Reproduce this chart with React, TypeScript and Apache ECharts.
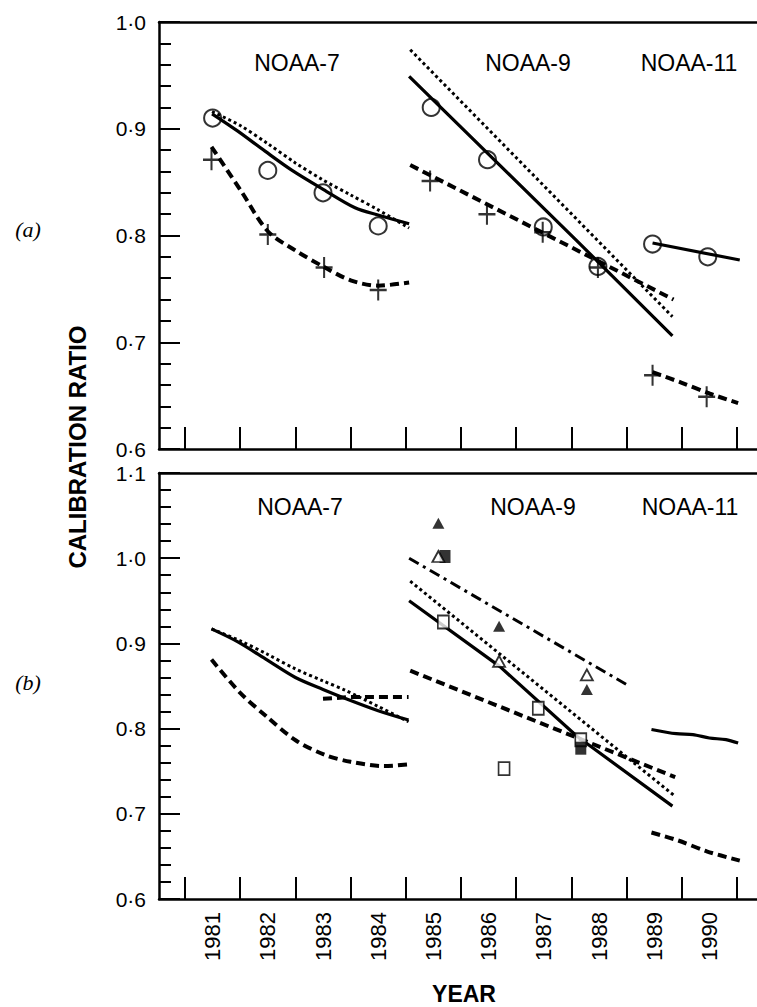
import React, { useEffect, useRef } from "react";
import * as echarts from "echarts";

// ---------- axis data ----------
const tickYears = [1981, 1982, 1983, 1984, 1985, 1986, 1987, 1988, 1989, 1990, 1991];
const labelYears = [1981.5, 1982.5, 1983.5, 1984.5, 1985.5, 1986.5, 1987.5, 1988.5, 1989.5, 1990.5];
const satLabels = ["NOAA-7", "NOAA-9", "NOAA-11"];

// ---------- panel (a) ----------
const a7Circles = [[1981.5, 0.910], [1982.5, 0.861], [1983.5, 0.840], [1984.5, 0.809]];
const a7Plus = [[1981.48, 0.871], [1982.5, 0.801], [1983.52, 0.770], [1984.5, 0.749]];
const a7Solid = [[1981.49, 0.914], [1981.95, 0.898], [1982.45, 0.879], [1982.94, 0.861], [1983.51, 0.843], [1984.08, 0.826], [1984.51, 0.819], [1985.06, 0.811]];
const a7Dotted = [[1981.49, 0.916], [1982.0, 0.903], [1982.5, 0.886], [1983.0, 0.868], [1983.5, 0.852], [1984.0, 0.838], [1984.5, 0.824], [1985.06, 0.807]];
const a7Dashed = [[1981.48, 0.883], [1982.0, 0.843], [1982.5, 0.804], [1983.0, 0.786], [1983.5, 0.771], [1984.0, 0.758], [1984.5, 0.753], [1985.06, 0.756]];

const a9Circles = [[1985.46, 0.920], [1986.48, 0.871], [1987.49, 0.808], [1988.48, 0.771]];
const a9Plus = [[1985.44, 0.851], [1986.47, 0.820], [1987.48, 0.803], [1988.48, 0.770]];
const a9Solid = [[1985.06, 0.949], [1988.1, 0.795], [1989.83, 0.706]];
const a9Dotted = [[1985.08, 0.974], [1989.83, 0.724]];
const a9Dashed = [[1985.08, 0.866], [1989.85, 0.740]];

const a11Circles = [[1989.47, 0.792], [1990.47, 0.780]];
const a11Plus = [[1989.47, 0.669], [1990.45, 0.649]];
const a11Solid = [[1989.47, 0.793], [1991.05, 0.777]];
const a11Dashed = [[1989.47, 0.672], [1990.0, 0.662], [1990.5, 0.652], [1991.02, 0.643]];

// ---------- panel (b) ----------
const b7Solid = [[1981.48, 0.917], [1981.95, 0.902], [1982.5, 0.880], [1983.0, 0.860], [1983.5, 0.846], [1984.0, 0.833], [1984.5, 0.821], [1985.05, 0.810]];
const b7Dotted = [[1981.48, 0.917], [1982.0, 0.903], [1982.5, 0.887], [1983.0, 0.870], [1983.5, 0.856], [1983.9, 0.845], [1984.5, 0.826], [1985.05, 0.808]];
const b7DashedFlat = [[1983.5, 0.835], [1984.0, 0.837], [1985.05, 0.837]];
const b7Dashed = [[1981.48, 0.881], [1982.0, 0.842], [1982.48, 0.814], [1983.01, 0.786], [1983.54, 0.769], [1984.0, 0.761], [1984.61, 0.756], [1985.06, 0.758]];

const b9Solid = [[1985.06, 0.950], [1986.7, 0.873], [1988.1, 0.791], [1989.83, 0.709]];
const b9Dotted = [[1985.08, 0.973], [1989.85, 0.722]];
const b9Dashed = [[1985.08, 0.868], [1989.88, 0.743]];
const b9DashDot = [[1985.06, 1.000], [1988.99, 0.852]];
const b9OpenTri = [[1985.59, 1.002], [1986.69, 0.879], [1988.28, 0.863]];
const b9FilledTri = [[1985.59, 1.041], [1986.69, 0.920], [1988.28, 0.846]];
const b9OpenSq = [[1985.68, 0.925], [1986.78, 0.753], [1987.40, 0.824], [1988.17, 0.787]];
const b9FilledSq = [[1985.71, 1.002], [1988.17, 0.777]];

const b11Solid = [[1989.45, 0.799], [1989.9, 0.794], [1990.2, 0.793], [1990.5, 0.789], [1990.8, 0.787], [1991.02, 0.783]];
const b11Dashed = [[1989.45, 0.678], [1989.92, 0.669], [1990.45, 0.656], [1991.05, 0.645]];

// ---------- styles ----------
const FONT = "'Liberation Sans', Arial, Helvetica, sans-serif";
const SOLID = { color: "#000", width: 3.2, type: "solid" as any };
const DASHED = { color: "#000", width: 4, type: [9, 5] as any };
const DOTTED = { color: "#000", width: 3, type: [3, 3] as any };
const DASHDOT = { color: "#000", width: 3, type: [11, 5, 3, 5] as any };
const PLUS = "path://M8.8,0 H11.2 V8.8 H20 V11.2 H11.2 V20 H8.8 V11.2 H0 V8.8 H8.8 Z";

const X_MIN = 1980.529;
const X_MAX = 1991.362;

function lineS(data: number[][], g: number, style: any, smooth: any = false) {
  return {
    type: "line",
    xAxisIndex: g * 2,
    yAxisIndex: g,
    data,
    symbol: "none",
    showSymbol: false,
    smooth,
    lineStyle: { ...style, cap: "butt" },
    z: 2,
    silent: true,
  };
}

function scatterS(data: number[][], g: number, symbol: string, size: any, item: any) {
  return {
    type: "scatter",
    xAxisIndex: g * 2,
    yAxisIndex: g,
    data,
    symbol,
    symbolSize: size,
    itemStyle: item,
    z: 5,
    silent: true,
  };
}

function bottomX(grid: number, showLabels: boolean) {
  return {
    type: "value",
    gridIndex: grid,
    position: "bottom",
    min: X_MIN,
    max: X_MAX,
    splitLine: { show: false },
    axisLine: { show: true, onZero: false, lineStyle: { color: "#000", width: 2.5 } },
    axisTick: {
      show: true,
      inside: true,
      length: 22,
      lineStyle: { color: "#000", width: 2 },
      customValues: tickYears,
    },
    axisLabel: {
      show: showLabels,
      customValues: labelYears,
      rotate: 90,
      margin: 13,
      color: "#000",
      fontSize: 22,
      fontFamily: FONT,
      formatter: (v: number) => String(Math.floor(v)),
    },
  };
}

function topX(grid: number) {
  return {
    type: "value",
    gridIndex: grid,
    position: "top",
    min: X_MIN,
    max: X_MAX,
    splitLine: { show: false },
    axisLine: { show: true, onZero: false, lineStyle: { color: "#000", width: 2.5 } },
    axisTick: { show: false },
    axisLabel: { show: false },
  };
}

function yAx(grid: number, min: number, max: number) {
  return {
    type: "value",
    gridIndex: grid,
    min,
    max,
    interval: 0.1,
    splitLine: { show: false },
    axisLine: { show: true, onZero: false, lineStyle: { color: "#000", width: 2.5 } },
    axisTick: { show: true, inside: true, length: 21, lineStyle: { color: "#000", width: 2 } },
    minorTick: { show: true, splitNumber: 5, length: 12, lineStyle: { color: "#000", width: 2 } },
    minorSplitLine: { show: false },
    axisLabel: {
      color: "#000",
      fontSize: 21,
      fontFamily: FONT,
      margin: 13,
      formatter: (v: number) => v.toFixed(1).replace(".", "\u00b7"),
    },
  };
}

function txt(text: string, x: number, y: number, size: number, opts: any = {}) {
  return {
    type: "text",
    x,
    y,
    rotation: opts.rotation || 0,
    style: {
      text,
      fill: "#000",
      fontSize: size,
      fontFamily: opts.family || FONT,
      fontWeight: opts.weight || "normal",
      fontStyle: opts.style || "normal",
      align: "center",
      verticalAlign: "middle",
    },
    z: 10,
  };
}

export default function App() {
  const ref = useRef<HTMLDivElement>(null);
  useEffect(() => {
    if (!ref.current) return;
    const chart = echarts.init(ref.current, undefined, { renderer: "svg" });
    const circleItem = { color: "rgba(0,0,0,0)", borderColor: "#000", borderWidth: 2 };
    const openItem = { color: "#fff", borderColor: "#000", borderWidth: 1.8 };
    const fillItem = { color: "#000" };
    const option: any = {
      animation: false,
      backgroundColor: "#fff",
      grid: [
        { left: 159, top: 22, width: 598, height: 427 },
        { left: 159, top: 473, width: 598, height: 426 },
      ],
      xAxis: [bottomX(0, false), topX(0), bottomX(1, true), topX(1)],
      yAxis: [yAx(0, 0.6, 1.0), yAx(1, 0.6, 1.1)],
      series: [
        // (a) NOAA-7
        lineS(a7Solid, 0, SOLID, 0.3),
        lineS(a7Dotted, 0, DOTTED, 0.3),
        lineS(a7Dashed, 0, DASHED, 0.3),
        scatterS(a7Circles, 0, "circle", 17, circleItem),
        scatterS(a7Plus, 0, PLUS, [17, 21], fillItem),
        // (a) NOAA-9
        lineS(a9Solid, 0, SOLID),
        lineS(a9Dotted, 0, DOTTED),
        lineS(a9Dashed, 0, DASHED),
        scatterS(a9Circles, 0, "circle", 17, circleItem),
        scatterS(a9Plus, 0, PLUS, [17, 21], fillItem),
        // (a) NOAA-11
        lineS(a11Solid, 0, SOLID),
        lineS(a11Dashed, 0, DASHED, 0.3),
        scatterS(a11Circles, 0, "circle", 17, circleItem),
        scatterS(a11Plus, 0, PLUS, [17, 21], fillItem),
        // (b) NOAA-7
        lineS(b7Solid, 1, SOLID, 0.3),
        lineS(b7Dotted, 1, DOTTED, 0.3),
        lineS(b7DashedFlat, 1, DASHED),
        lineS(b7Dashed, 1, DASHED, 0.3),
        // (b) NOAA-9
        lineS(b9Solid, 1, SOLID),
        lineS(b9Dotted, 1, DOTTED),
        lineS(b9Dashed, 1, DASHED),
        lineS(b9DashDot, 1, DASHDOT),
        scatterS(b9OpenSq, 1, "rect", [11, 13], openItem),
        scatterS(b9FilledSq, 1, "rect", [11, 13], fillItem),
        scatterS(b9OpenTri, 1, "triangle", [12, 11], openItem),
        scatterS(b9FilledTri, 1, "triangle", [12, 11], fillItem),
        // (b) NOAA-11
        lineS(b11Solid, 1, SOLID, 0.3),
        lineS(b11Dashed, 1, DASHED, 0.3),
      ],
      graphic: [
        txt(satLabels[0], 297, 63, 23),
        txt(satLabels[1], 528, 63, 23),
        txt(satLabels[2], 689, 63, 23),
        txt(satLabels[0], 300, 507, 23),
        txt(satLabels[1], 533, 507, 23),
        txt(satLabels[2], 690, 507, 23),
        txt("(a)", 28, 229, 22, { family: "'Liberation Serif', 'DejaVu Serif', serif", style: "italic" }),
        txt("(b)", 28, 682, 22, { family: "'Liberation Serif', 'DejaVu Serif', serif", style: "italic" }),
        txt("CALIBRATION RATIO", 77, 447, 24, { weight: "bold", rotation: Math.PI / 2 }),
        txt("YEAR", 464, 994, 23, { weight: "bold" }),
      ],
    };
    chart.setOption(option);
    return () => chart.dispose();
  }, []);
  return (
    <div
      ref={ref}
      style={{ position: "absolute", left: 0, top: 0, width: 757, height: 1007, background: "#fff" }}
    />
  );
}
